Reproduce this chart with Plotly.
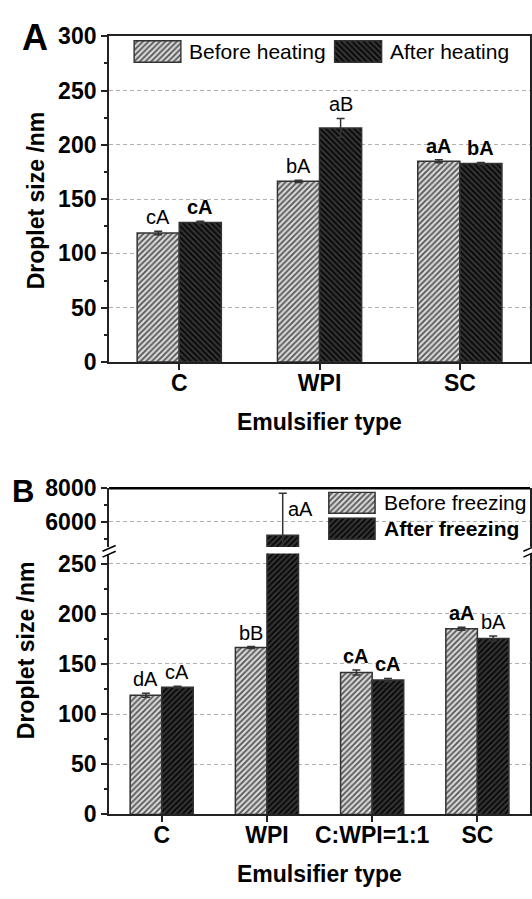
import plotly.graph_objects as go
import numpy as np

W, H = 532, 899
FONT = "Liberation Sans, Arial, sans-serif"

# ---------------- data: panel A (heating) ----------------
cats_a = ["C", "WPI", "SC"]
before_heat = [118.7, 166.4, 184.9]
before_heat_err = [1.6, 1.0, 1.3]
after_heat = [128.5, 215.6, 182.8]
after_heat_err = [1.0, 8.7, 1.0]
labels_before_heat = ["cA", "bA", "aA"]
labels_after_heat = ["cA", "aB", "bA"]
bold_before_heat = [False, False, True]
bold_after_heat = [True, False, True]

# ---------------- data: panel B (freezing) ----------------
cats_b = ["C", "WPI", "C:WPI=1:1", "SC"]
before_freeze = [118.9, 166.3, 141.5, 185.1]
before_freeze_err = [2.0, 1.0, 2.5, 1.5]
after_freeze = [126.9, 5210, 134.0, 175.4]
after_freeze_err = [0.8, 2490, 1.5, 2.5]
labels_before_freeze = ["dA", "bB", "cA", "aA"]
labels_after_freeze = ["cA", "aA", "cA", "bA"]
bold_before_freeze = [False, False, True, True]
bold_after_freeze = [False, False, True, False]

ticks_a = [0, 50, 100, 150, 200, 250, 300]
ticks_b_low = [0, 50, 100, 150, 200, 250]
ticks_b_high = [6000, 8000]
minor_b_high = [5000, 7000]

# ---------------- styles ----------------
BARGAP = 0.4
HALF = (1 - BARGAP) / 4  # offset of bar centre from category centre
LINE = dict(color="#333333", width=1.5)


def pat_before():
    return dict(color="#d4d4d4", line=LINE,
                pattern=dict(shape="/", bgcolor="#d8d8d8", fgcolor="#555555",
                             size=4, solidity=0.45, fillmode="replace"))


def pat_after(shape):
    return dict(color="#303030", line=LINE,
                pattern=dict(shape=shape, bgcolor="#343434", fgcolor="#050505",
                             size=4, solidity=0.45, fillmode="replace"))


def err(arr):
    return dict(type="data", array=arr, color="#333333", thickness=1.5, width=4)


def px(x):
    return x / W


def py(y):
    return 1 - y / H


pos_a = np.arange(len(cats_a))
pos_b = np.arange(len(cats_b))

fig = go.Figure()

# Panel A bars
fig.add_trace(go.Bar(x=pos_a, y=before_heat, error_y=err(before_heat_err),
                     marker=pat_before(), offsetgroup="b", xaxis="x", yaxis="y",
                     showlegend=False, name="Before heating"))
fig.add_trace(go.Bar(x=pos_a, y=after_heat, error_y=err(after_heat_err),
                     marker=pat_after("\\"), offsetgroup="a", xaxis="x", yaxis="y",
                     showlegend=False, name="After heating"))

# Panel B bars (drawn on both segments of the broken axis)
for ya in ["y2", "y3"]:
    fig.add_trace(go.Bar(x=pos_b, y=before_freeze, error_y=err(before_freeze_err),
                         marker=pat_before(), offsetgroup="b", xaxis="x2", yaxis=ya,
                         showlegend=False, name="Before freezing"))
    fig.add_trace(go.Bar(x=pos_b, y=after_freeze, error_y=err(after_freeze_err),
                         marker=pat_after("/"), offsetgroup="a", xaxis="x2", yaxis=ya,
                         showlegend=False, name="After freezing"))

# Legend swatches (hidden axes)
swatches = [
    ("x3", "y4", pat_before()),
    ("x4", "y5", pat_after("\\")),
    ("x5", "y6", pat_before()),
    ("x6", "y7", pat_after("/")),
]
for xa, ya, mk in swatches:
    fig.add_trace(go.Bar(x=[0], y=[1], width=[1], marker=mk, xaxis=xa, yaxis=ya,
                         showlegend=False, hoverinfo="skip"))

XD = [px(109.3), px(531)]
axfont = dict(family=FONT, size=23, color="black", weight="bold")
common_y = dict(showline=True, linecolor="#222", linewidth=2, mirror=True,
                ticks="outside", ticklen=6, tickwidth=2, tickcolor="#222",
                tickfont=axfont, showgrid=True, gridcolor="#b0b0b0", gridwidth=1,
                griddash="4px,3px", zeroline=False, fixedrange=True)
common_x = dict(showline=True, linecolor="#222", linewidth=2,
                ticks="outside", ticklen=6, tickwidth=2, tickcolor="#222",
                tickfont=axfont, showgrid=False, zeroline=False,
                ticklabelstandoff=-7)

layout = dict(
    width=W, height=H, margin=dict(l=0, r=0, t=0, b=0),
    paper_bgcolor="white", plot_bgcolor="rgba(0,0,0,0)",
    barmode="group", bargap=BARGAP, bargroupgap=0, showlegend=False,
    xaxis=dict(domain=XD, range=[-0.5, 2.5], anchor="y", mirror=True,
               tickvals=pos_a, ticktext=cats_a, **common_x),
    yaxis=dict(domain=[py(359.3), py(24)], range=[0, 300], anchor="x",
               tickvals=ticks_a,
               minor=dict(dtick=25, ticks="outside", ticklen=3, tickcolor="#222",
                          showgrid=False),
               **common_y),
    xaxis2=dict(domain=XD, range=[-0.5, 3.5], anchor="y2", mirror=False,
                tickvals=pos_b, ticktext=cats_b, **common_x),
    yaxis2=dict(domain=[py(825.3), py(556.7)], range=[0, 260], anchor="x2",
                tickvals=ticks_b_low,
                minor=dict(dtick=25, ticks="outside", ticklen=3, tickcolor="#222",
                           showgrid=False),
                **common_y),
    yaxis3=dict(domain=[py(550), py(489.3)], range=[4500, 8000], anchor="x2",
                tickvals=ticks_b_high,
                minor=dict(tickvals=minor_b_high, ticks="outside", ticklen=3,
                           tickcolor="#222", showgrid=False),
                **common_y),
)

sw_geo = [
    ((133.4, 182.2), (27.7, 51.7)),
    ((334.2, 383.4), (27.7, 51.7)),
    ((328.5, 376.7), (492.7, 516)),
    ((328.5, 376.7), (519.3, 542.7)),
]
for i, ((x0, x1), (y0, y1)) in enumerate(sw_geo):
    layout[f"xaxis{i + 3}"] = dict(domain=[px(x0), px(x1)], range=[-0.52, 0.52],
                                   visible=False, anchor=f"y{i + 4}")
    layout[f"yaxis{i + 4}"] = dict(domain=[py(y1), py(y0)], range=[-0.04, 1.04],
                                   visible=False, anchor=f"x{i + 3}")

fig.update_layout(**layout)

ann = []


def lab(text, bold):
    return f"<b>{text}</b>" if bold else text


def bar_labels(pos, vals, errs, labels, bolds, side, xref, yref, skip=()):
    for i, (p, v, e, t, b) in enumerate(zip(pos, vals, errs, labels, bolds)):
        if i in skip:
            continue
        ann.append(dict(x=p + side * HALF, y=v + e, xref=xref, yref=yref,
                        text=lab(t, b), showarrow=False, xanchor="center",
                        yanchor="bottom", yshift=1,
                        font=dict(family=FONT, size=20, color="black")))


bar_labels(pos_a, before_heat, before_heat_err, labels_before_heat,
           bold_before_heat, -1, "x", "y")
bar_labels(pos_a, after_heat, after_heat_err, labels_after_heat,
           bold_after_heat, 1, "x", "y")
bar_labels(pos_b, before_freeze, before_freeze_err, labels_before_freeze,
           bold_before_freeze, -1, "x2", "y2")
big = int(np.argmax(after_freeze))
bar_labels(pos_b, after_freeze, after_freeze_err, labels_after_freeze,
           bold_after_freeze, 1, "x2", "y2", skip=(big,))
ann.append(dict(x=pos_b[big] + HALF, y=after_freeze[big] + after_freeze_err[big],
                xref="x2", yref="y3", text=lab(labels_after_freeze[big], bold_after_freeze[big]),
                showarrow=False, xanchor="left", yanchor="top", xshift=3, yshift=-3,
                font=dict(family=FONT, size=20, color="black")))

# legend texts
ann += [
    dict(x=px(187.6), y=py(39.7), xref="paper", yref="paper", text="Before heating",
         showarrow=False, xanchor="left", yanchor="middle",
         font=dict(family=FONT, size=21, color="black")),
    dict(x=px(388.5), y=py(39.7), xref="paper", yref="paper", text="After heating",
         showarrow=False, xanchor="left", yanchor="middle",
         font=dict(family=FONT, size=21, color="black")),
    dict(x=px(382.8), y=py(504.3), xref="paper", yref="paper", text="Before freezing",
         showarrow=False, xanchor="left", yanchor="middle",
         font=dict(family=FONT, size=21, color="black")),
    dict(x=px(382.8), y=py(531), xref="paper", yref="paper", text="<b>After freezing</b>",
         showarrow=False, xanchor="left", yanchor="middle",
         font=dict(family=FONT, size=21, color="black")),
]

# axis titles and panel letters
ttl = dict(family=FONT, size=23, color="black")
ann += [
    dict(x=px(35.6), y=py(193.4), xref="paper", yref="paper", text="<b>Droplet size /nm</b>",
         textangle=-90, showarrow=False, xanchor="center", yanchor="middle", font=ttl),
    dict(x=px(320), y=py(421), xref="paper", yref="paper", text="<b>Emulsifier type</b>",
         showarrow=False, xanchor="center", yanchor="middle", font=ttl),
    dict(x=px(25.4), y=py(655.8), xref="paper", yref="paper", text="<b>Droplet size /nm</b>",
         textangle=-90, showarrow=False, xanchor="center", yanchor="middle", font=ttl),
    dict(x=px(320), y=py(886.7), xref="paper", yref="paper", text="<b>Emulsifier type</b>",
         showarrow=False, xanchor="center", yanchor="middle", font=ttl),
    dict(x=px(35.5), y=py(25.7), xref="paper", yref="paper", text="<b>A</b>",
         showarrow=False, xanchor="center", yanchor="middle",
         font=dict(family=FONT, size=36, color="black")),
    dict(x=px(22.9), y=py(492.9), xref="paper", yref="paper", text="<b>B</b>",
         showarrow=False, xanchor="center", yanchor="middle",
         font=dict(family=FONT, size=31, color="black")),
]
fig.update_layout(annotations=ann)

# top frame of panel B and axis-break marks
shapes = [
    dict(type="line", xref="paper", yref="paper", x0=XD[0], x1=XD[1],
         y0=py(489.3), y1=py(489.3), line=dict(color="black", width=2.5)),
]
for xc in (109.3, 531):
    for dy in (0, 6):
        shapes.append(dict(type="line", xref="paper", yref="paper",
                           x0=px(xc - 6.6), x1=px(xc + 6.6),
                           y0=py(554.3 + dy), y1=py(548.3 + dy),
                           line=dict(color="black", width=1.5)))
fig.update_layout(shapes=shapes)

fig.write_html("out.html")
